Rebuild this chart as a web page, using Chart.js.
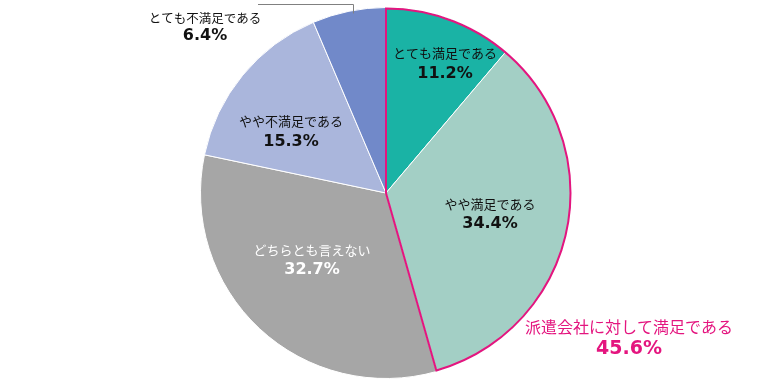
<!DOCTYPE html>
<html><head><meta charset="utf-8">
<script src="https://cdn.jsdelivr.net/npm/chart.js@4.4.1/dist/chart.umd.min.js"></script>
<style>html,body{margin:0;padding:0;background:#fff;}canvas{display:block;}</style>
</head><body>
<canvas id="c" width="766" height="385"></canvas>
<script>
const categories = ["とても満足である","やや満足である","どちらとも言えない","やや不満足である","とても不満足である"];
const values = [11.2, 34.4, 32.7, 15.3, 6.4];
const colors = ["#1AB3A5","#A3CFC5","#A6A6A6","#AAB6DC","#7189C9"];
const groupLabel = "派遣会社に対して満足である";
const groupValue = 45.6;
const groupSlices = [0, 1];

// label layout (text anchor centres)
const labelPos = [
  {x:445, y:53, py:74, color:"#111111"},
  {x:490, y:204, py:224, color:"#111111"},
  {x:312, y:250, py:270, color:"#ffffff"},
  {x:291, y:121, py:142, color:"#111111"},
  {x:205, y:18, py:36, color:"#111111"}
];
const pink = "#E4157F";

const labelPlugin = {
  id: 'labels',
  afterDatasetsDraw(chart) {
    const ctx = chart.ctx;
    const meta = chart.getDatasetMeta(0);
    // pink outline around group
    const a0 = meta.data[groupSlices[0]];
    const a1 = meta.data[groupSlices[groupSlices.length-1]];
    ctx.save();
    ctx.strokeStyle = pink;
    ctx.lineWidth = 2;
    ctx.beginPath();
    ctx.moveTo(a0.x, a0.y);
    ctx.arc(a0.x, a0.y, a0.outerRadius - 1, a0.startAngle, a1.endAngle);
    ctx.closePath();
    ctx.stroke();
    ctx.restore();

    // leader line for last slice
    const last = meta.data[meta.data.length-1];
    const ang = last.startAngle + (last.endAngle - last.startAngle) * 0.55;
    const ex = last.x + Math.cos(ang) * (last.outerRadius - 3);
    const ey = last.y + Math.sin(ang) * (last.outerRadius - 3);
    ctx.save();
    ctx.strokeStyle = "#808080";
    ctx.lineWidth = 1;
    ctx.beginPath();
    ctx.moveTo(Math.round(ex)+0.5, ey);
    ctx.lineTo(Math.round(ex)+0.5, 4.5);
    ctx.lineTo(258, 4.5);
    ctx.stroke();
    ctx.restore();

    ctx.save();
    ctx.textAlign = 'center';
    ctx.textBaseline = 'middle';
    values.forEach((v, i) => {
      const p = labelPos[i];
      ctx.fillStyle = p.color;
      ctx.font = (i === 4 ? "12.5px" : "13px") + " 'Noto Sans CJK JP'";
      ctx.fillText(categories[i], p.x, p.y);
      ctx.font = "bold 16px 'DejaVu Sans'";
      ctx.fillText(v.toFixed(1) + "%", p.x, p.py);
    });
    ctx.fillStyle = pink;
    ctx.font = "16px 'Noto Sans CJK JP'";
    ctx.fillText(groupLabel, 629, 327);
    ctx.font = "bold 19px 'DejaVu Sans'";
    ctx.fillText(groupValue.toFixed(1) + "%", 629, 349);
    ctx.restore();
  }
};

new Chart(document.getElementById('c'), {
  type: 'pie',
  data: {
    labels: categories,
    datasets: [{
      data: values,
      backgroundColor: colors,
      borderColor: "#ffffff",
      borderWidth: 1
    }]
  },
  options: {
    responsive: false,
    animation: false,
    devicePixelRatio: 1,
    layout: { padding: { left: 6, right: 0, top: 7, bottom: 6 } },
    plugins: { legend: { display: false }, tooltip: { enabled: false } }
  },
  plugins: [labelPlugin]
});
</script>
</body></html>
